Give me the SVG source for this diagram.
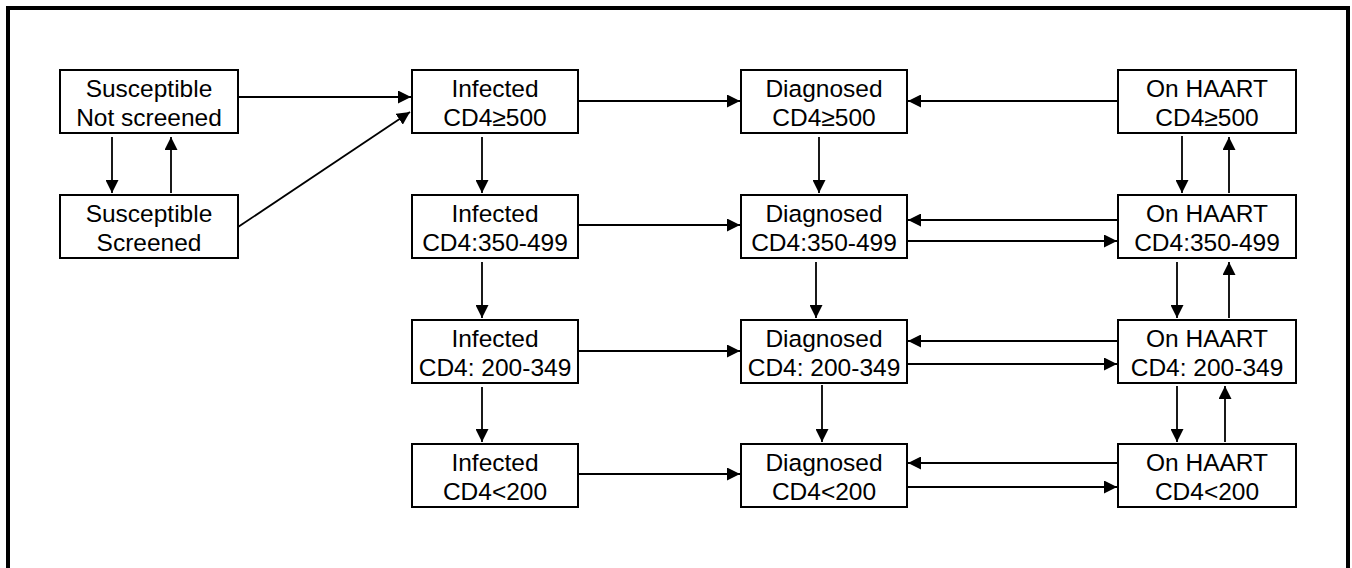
<svg xmlns="http://www.w3.org/2000/svg" width="1352" height="568" viewBox="0 0 1352 568">
<style>
.box{fill:#fff;stroke:#000;stroke-width:2}
.t{font-family:"Liberation Sans",Arial,sans-serif;font-size:24.5px;fill:#000;text-anchor:middle}
.c{stroke:#000;stroke-width:1.8;fill:none;marker-end:url(#ah)}
</style>
<defs>
<marker id="ah" markerWidth="13" markerHeight="13" viewBox="0 0 13 13" refX="13" refY="6.5" orient="auto" markerUnits="userSpaceOnUse">
<path d="M0,0 L13,6.5 L0,13 Z" fill="#000"/>
</marker>
</defs>
<rect x="0" y="0" width="1352" height="568" fill="#fff"/>
<rect x="8" y="8" width="1340" height="580" fill="none" stroke="#000" stroke-width="4"/>
<g id="connectors">
<line class="c" x1="238" y1="97" x2="411" y2="97"/>
<line class="c" x1="238" y1="227" x2="410" y2="112"/>
<line class="c" x1="112" y1="137" x2="112" y2="193"/>
<line class="c" x1="171" y1="193" x2="171" y2="137"/>
<line class="c" x1="482" y1="137" x2="482" y2="193"/>
<line class="c" x1="482" y1="262" x2="482" y2="318"/>
<line class="c" x1="482" y1="387" x2="482" y2="442"/>
<line class="c" x1="578" y1="101" x2="740" y2="101"/>
<line class="c" x1="578" y1="225" x2="740" y2="225"/>
<line class="c" x1="578" y1="351" x2="740" y2="351"/>
<line class="c" x1="578" y1="474" x2="740" y2="474"/>
<line class="c" x1="819" y1="137" x2="819" y2="193"/>
<line class="c" x1="816" y1="262" x2="816" y2="318"/>
<line class="c" x1="822" y1="385" x2="822" y2="442"/>
<line class="c" x1="1118" y1="101" x2="908" y2="101"/>
<line class="c" x1="1118" y1="220" x2="908" y2="220"/>
<line class="c" x1="907" y1="241" x2="1117" y2="241"/>
<line class="c" x1="1118" y1="341" x2="908" y2="341"/>
<line class="c" x1="907" y1="364" x2="1117" y2="364"/>
<line class="c" x1="1118" y1="463" x2="908" y2="463"/>
<line class="c" x1="907" y1="487" x2="1117" y2="487"/>
<line class="c" x1="1182" y1="136" x2="1182" y2="193"/>
<line class="c" x1="1229" y1="193" x2="1229" y2="137"/>
<line class="c" x1="1177" y1="262" x2="1177" y2="318"/>
<line class="c" x1="1229" y1="318" x2="1229" y2="262"/>
<line class="c" x1="1177" y1="386" x2="1177" y2="442"/>
<line class="c" x1="1225" y1="442" x2="1225" y2="386"/>
</g>
<g id="sus_ns"><rect class="box" x="60" y="70" width="178" height="63"/><text class="t" x="149" y="97">Susceptible</text><text class="t" x="149" y="126">Not screened</text></g>
<g id="sus_s"><rect class="box" x="60" y="195" width="178" height="63"/><text class="t" x="149" y="222">Susceptible</text><text class="t" x="149" y="251">Screened</text></g>
<g id="inf1"><rect class="box" x="412" y="70" width="166" height="63"/><text class="t" x="495" y="97">Infected</text><text class="t" x="495" y="126">CD4≥500</text></g>
<g id="inf2"><rect class="box" x="412" y="195" width="166" height="63"/><text class="t" x="495" y="222">Infected</text><text class="t" x="495" y="251">CD4:350-499</text></g>
<g id="inf3"><rect class="box" x="412" y="320" width="166" height="63"/><text class="t" x="495" y="347">Infected</text><text class="t" x="495" y="376">CD4: 200-349</text></g>
<g id="inf4"><rect class="box" x="412" y="444" width="166" height="63"/><text class="t" x="495" y="471">Infected</text><text class="t" x="495" y="500">CD4&lt;200</text></g>
<g id="dia1"><rect class="box" x="741" y="70" width="166" height="63"/><text class="t" x="824" y="97">Diagnosed</text><text class="t" x="824" y="126">CD4≥500</text></g>
<g id="dia2"><rect class="box" x="741" y="195" width="166" height="63"/><text class="t" x="824" y="222">Diagnosed</text><text class="t" x="824" y="251">CD4:350-499</text></g>
<g id="dia3"><rect class="box" x="741" y="320" width="166" height="63"/><text class="t" x="824" y="347">Diagnosed</text><text class="t" x="824" y="376">CD4: 200-349</text></g>
<g id="dia4"><rect class="box" x="741" y="444" width="166" height="63"/><text class="t" x="824" y="471">Diagnosed</text><text class="t" x="824" y="500">CD4&lt;200</text></g>
<g id="haart1"><rect class="box" x="1118" y="70" width="178" height="63"/><text class="t" x="1207" y="97">On HAART</text><text class="t" x="1207" y="126">CD4≥500</text></g>
<g id="haart2"><rect class="box" x="1118" y="195" width="178" height="63"/><text class="t" x="1207" y="222">On HAART</text><text class="t" x="1207" y="251">CD4:350-499</text></g>
<g id="haart3"><rect class="box" x="1118" y="320" width="178" height="63"/><text class="t" x="1207" y="347">On HAART</text><text class="t" x="1207" y="376">CD4: 200-349</text></g>
<g id="haart4"><rect class="box" x="1118" y="444" width="178" height="63"/><text class="t" x="1207" y="471">On HAART</text><text class="t" x="1207" y="500">CD4&lt;200</text></g>
</svg>
